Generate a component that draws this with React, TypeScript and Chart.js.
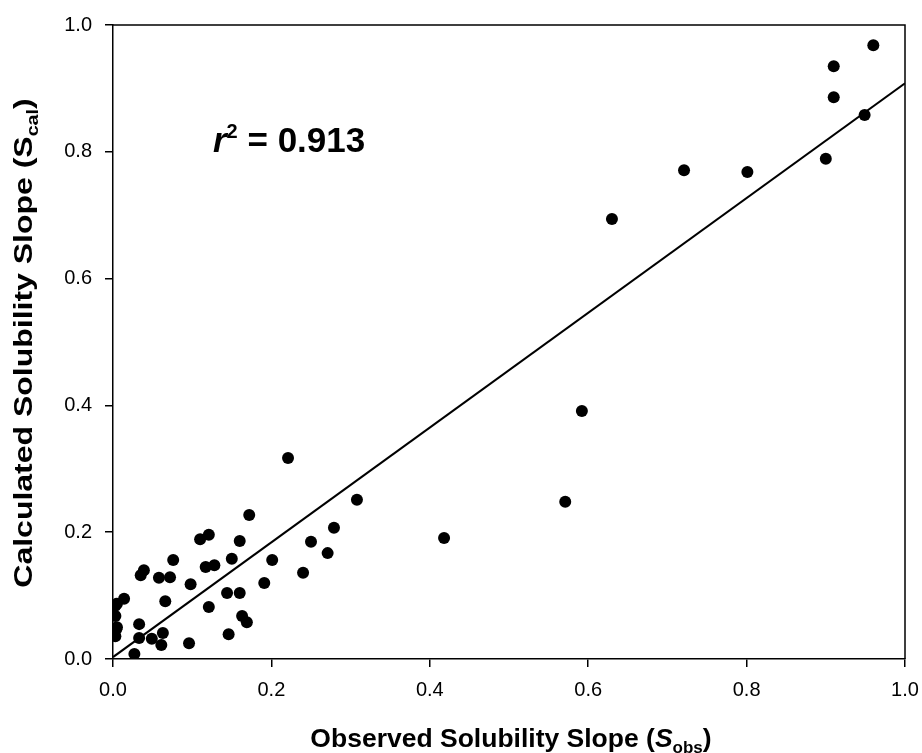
import React, { useEffect, useRef } from "react";
import { Chart, registerables } from "chart.js";

Chart.register(...registerables);

// Observed solubility slope (S_obs)
const obsX: number[] = [
  0.960, 0.910, 0.910, 0.949, 0.900, 0.721, 0.801, 0.630, 0.592, 0.571,
  0.418, 0.308, 0.221, 0.279, 0.271, 0.250, 0.240, 0.201, 0.191, 0.172,
  0.160, 0.150, 0.160, 0.144, 0.163, 0.169, 0.146, 0.121, 0.110, 0.128,
  0.117, 0.121, 0.098, 0.096, 0.076, 0.072, 0.058, 0.066, 0.063, 0.061,
  0.049, 0.039, 0.035, 0.033, 0.033, 0.027, 0.014, 0.005, 0.003, 0.003,
  0.005, 0.004, 0.003,
];
// Calculated solubility slope (S_cal)
const calY: number[] = [
  0.968, 0.935, 0.886, 0.858, 0.789, 0.771, 0.768, 0.694, 0.391, 0.248,
  0.191, 0.251, 0.317, 0.207, 0.167, 0.185, 0.136, 0.156, 0.120, 0.227,
  0.186, 0.158, 0.104, 0.104, 0.068, 0.058, 0.039, 0.196, 0.189, 0.148,
  0.145, 0.082, 0.118, 0.025, 0.156, 0.129, 0.128, 0.091, 0.041, 0.022,
  0.032, 0.140, 0.132, 0.055, 0.033, 0.008, 0.095, 0.087, 0.084, 0.068,
  0.050, 0.047, 0.036,
];
// Regression line end points
const fitX: number[] = [0, 1];
const fitY: number[] = [0.003, 0.908];

const axisTicks: number[] = [0, 0.2, 0.4, 0.6, 0.8, 1.0];
const xTitleParts = ["Observed Solubility Slope (", "S", "obs", ")"];
const yTitleParts = ["Calculated Solubility Slope (", "S", "cal", ")"];
const r2Label = "0.913";

const FAMILY = '"Liberation Sans", Arial, Helvetica, sans-serif';

type Part = { t: string; font: string; dy: number };

function drawParts(ctx: CanvasRenderingContext2D, parts: Part[], x: number, y: number, align: "left" | "center") {
  let total = 0;
  const widths = parts.map((p) => {
    ctx.font = p.font;
    const w = ctx.measureText(p.t).width;
    total += w;
    return w;
  });
  let cx = align === "center" ? x - total / 2 : x;
  ctx.textAlign = "left";
  ctx.textBaseline = "alphabetic";
  parts.forEach((p, i) => {
    ctx.font = p.font;
    ctx.fillText(p.t, cx, y + p.dy);
    cx += widths[i];
  });
}

const textPlugin = {
  id: "customText",
  afterDraw(chart: any) {
    const ctx: CanvasRenderingContext2D = chart.ctx;
    const { left, top, right, bottom } = chart.chartArea;
    ctx.save();
    // frame (top and right sides)
    ctx.strokeStyle = "#000";
    ctx.lineWidth = 1.5;
    ctx.beginPath();
    ctx.moveTo(left, top);
    ctx.lineTo(right, top);
    ctx.lineTo(right, bottom);
    ctx.stroke();

    ctx.fillStyle = "#000";
    // x title
    drawParts(
      ctx,
      [
        { t: xTitleParts[0], font: `bold 26.5px ${FAMILY}`, dy: 0 },
        { t: xTitleParts[1], font: `italic bold 26.5px ${FAMILY}`, dy: 0 },
        { t: xTitleParts[2], font: `bold 17px ${FAMILY}`, dy: 6 },
        { t: xTitleParts[3], font: `bold 26.5px ${FAMILY}`, dy: 0 },
      ],
      511,
      747,
      "center"
    );

    // y title
    ctx.save();
    ctx.translate(32, 343);
    ctx.rotate(-Math.PI / 2);
    ctx.scale(1.23, 1);
    drawParts(
      ctx,
      [
        { t: yTitleParts[0], font: `bold 26px ${FAMILY}`, dy: 0 },
        { t: yTitleParts[1], font: `bold 26px ${FAMILY}`, dy: 0 },
        { t: yTitleParts[2], font: `bold 16px ${FAMILY}`, dy: 6 },
        { t: yTitleParts[3], font: `bold 26px ${FAMILY}`, dy: 0 },
      ],
      0,
      0,
      "center"
    );
    ctx.restore();

    // r^2 annotation
    drawParts(
      ctx,
      [
        { t: "r", font: `italic bold 35px ${FAMILY}`, dy: 0 },
        { t: "2", font: `bold 20px ${FAMILY}`, dy: -14 },
        { t: " = " + r2Label, font: `bold 35px ${FAMILY}`, dy: 0 },
      ],
      213,
      152,
      "left"
    );
    ctx.restore();
  },
};

export default function App() {
  const ref = useRef<HTMLCanvasElement | null>(null);

  useEffect(() => {
    if (!ref.current) return;
    const points = obsX.map((x, i) => ({ x, y: calY[i] }));
    const fit = fitX.map((x, i) => ({ x, y: fitY[i] }));
    const tickFont = { family: FAMILY, size: 20 };
    const chart = new Chart(ref.current, {
      type: "scatter",
      data: {
        datasets: [
          {
            type: "line",
            data: fit,
            borderColor: "#000",
            borderWidth: 2,
            pointRadius: 0,
            fill: false,
            order: 2,
          } as any,
          {
            data: points,
            backgroundColor: "#000",
            borderColor: "#000",
            pointRadius: 6,
            borderWidth: 0,
            order: 1,
          },
        ],
      },
      options: {
        animation: false,
        responsive: false,
        maintainAspectRatio: false,
        layout: { padding: { top: 25, right: 17, left: 0, bottom: 0 } },
        plugins: { legend: { display: false }, tooltip: { enabled: false } },
        scales: {
          x: {
            type: "linear",
            min: 0,
            max: 1,
            afterBuildTicks: (s: any) => {
              s.ticks = axisTicks.map((v) => ({ value: v }));
            },
            ticks: {
              font: tickFont,
              color: "#000",
              padding: 11,
              maxRotation: 0,
              callback: (v: any) => Number(v).toFixed(1),
            },
            grid: { drawOnChartArea: false, drawTicks: true, tickLength: 8, color: "#000", lineWidth: 1.5 },
            border: { display: true, color: "#000", width: 1.5 },
            afterFit: (s: any) => {
              s.height = 94;
              s.paddingLeft = 0;
              s.paddingRight = 0;
            },
          },
          y: {
            type: "linear",
            min: 0,
            max: 1,
            afterBuildTicks: (s: any) => {
              s.ticks = axisTicks.map((v) => ({ value: v }));
            },
            ticks: {
              font: tickFont,
              color: "#000",
              padding: 13,
              callback: (v: any) => Number(v).toFixed(1),
            },
            grid: { drawOnChartArea: false, drawTicks: true, tickLength: 8, color: "#000", lineWidth: 1.5 },
            border: { display: true, color: "#000", width: 1.5 },
            afterFit: (s: any) => {
              s.width = 113;
              s.paddingTop = 0;
              s.paddingBottom = 0;
            },
          },
        },
      } as any,
      plugins: [textPlugin],
    });
    return () => chart.destroy();
  }, []);

  return (
    <div style={{ position: "absolute", left: 0, top: 0, width: 922, height: 753, background: "#fff" }}>
      <canvas ref={ref} width={922} height={753} style={{ display: "block", width: 922, height: 753 }} />
    </div>
  );
}
